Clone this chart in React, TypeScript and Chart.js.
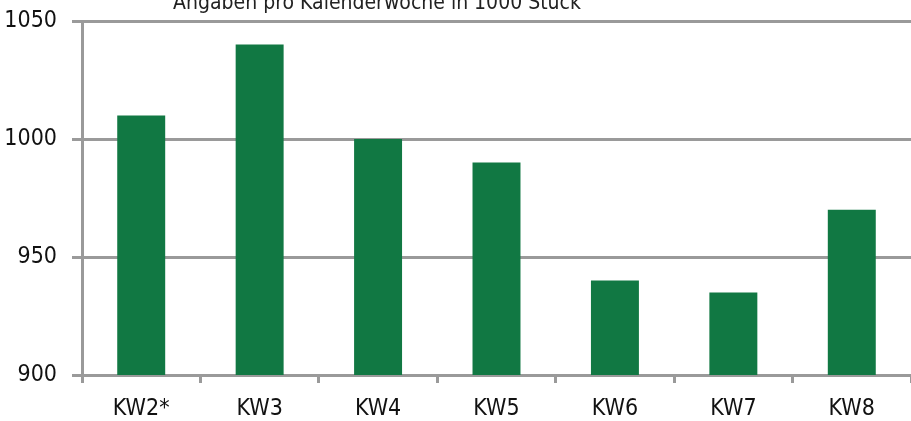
import React, { useEffect, useRef } from "react";
import { Chart, registerables } from "chart.js";

Chart.register(...registerables);

const categories = ["KW2*", "KW3", "KW4", "KW5", "KW6", "KW7", "KW8"];
const values = [1010, 1040, 1000, 990, 940, 935, 970];
const yTicks = [900, 950, 1000, 1050];
const titleText = "Angaben pro Kalenderwoche in 1000 Stück";

const FONT = '"DejaVu Sans Condensed", "Liberation Sans", sans-serif';
const GRID = "#9a9a9a";

const titlePlugin = {
  id: "clippedTitle",
  afterDraw(chart: any) {
    const ctx = chart.ctx;
    ctx.save();
    ctx.font = `21px ${FONT}`;
    ctx.fillStyle = "#222";
    ctx.textAlign = "center";
    ctx.textBaseline = "alphabetic";
    ctx.fillText(titleText, 377, 9);
    ctx.restore();
  },
};

export default function App() {
  const ref = useRef<HTMLCanvasElement>(null);
  useEffect(() => {
    const chart = new Chart(ref.current!, {
      type: "bar",
      data: {
        labels: categories,
        datasets: [
          {
            data: values,
            backgroundColor: "#117843",
            borderWidth: 0,
            categoryPercentage: 1,
            barPercentage: 0.405,
          },
        ],
      },
      plugins: [titlePlugin],
      options: {
        animation: false,
        responsive: false,
        maintainAspectRatio: false,
        layout: { padding: { top: 21, right: 0, left: 0, bottom: 0 } },
        plugins: { legend: { display: false }, tooltip: { enabled: false }, title: { display: false } },
        scales: {
          x: {
            offset: true,
            grid: {
              offset: true,
              drawOnChartArea: false,
              drawTicks: true,
              tickLength: 8,
              tickWidth: 3,
              tickColor: GRID,
              color: GRID,
            },
            border: { display: true, color: GRID, width: 3 },
            ticks: { color: "#111", font: { family: FONT, size: 23 }, padding: 12 },
            afterFit: (s: any) => {
              s.height = 46;
              s.paddingLeft = 0;
              s.paddingRight = 0;
            },
          },
          y: {
            min: 900,
            max: 1050,
            afterBuildTicks: (s: any) => { s.ticks = yTicks.map((v) => ({ value: v })); },
            grid: {
              color: GRID,
              lineWidth: 3,
              drawTicks: true,
              tickLength: 10,
              tickColor: GRID,
            },
            border: { display: true, color: GRID, width: 3 },
            ticks: {
              color: "#111",
              font: { family: FONT, size: 23 },
              padding: 15,
              callback: (v: any) => String(v),
            },
            afterFit: (s: any) => {
              s.width = 82;
              s.paddingTop = 0;
              s.paddingBottom = 0;
            },
          },
        },
      },
    });
    return () => chart.destroy();
  }, []);
  return (
    <div style={{ position: "fixed", left: 0, top: 0, width: 911, height: 421, background: "#fff" }}>
      <canvas ref={ref} width={911} height={421} style={{ width: 911, height: 421 }} />
    </div>
  );
}
